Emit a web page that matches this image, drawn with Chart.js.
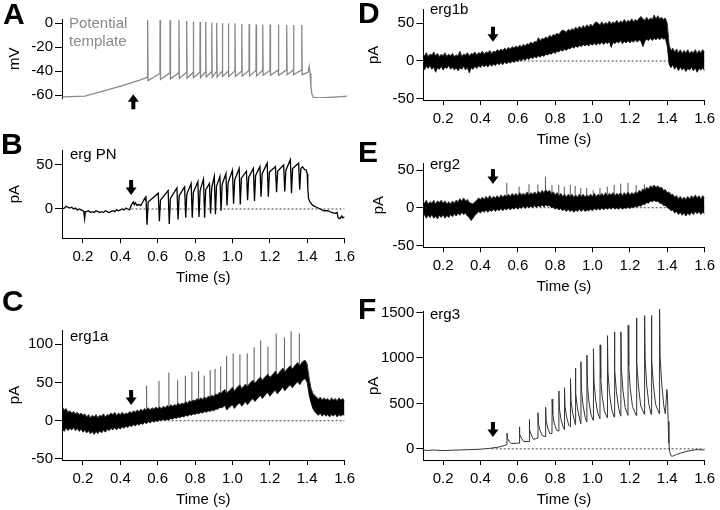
<!DOCTYPE html>
<html><head><meta charset="utf-8">
<script src="https://cdn.jsdelivr.net/npm/chart.js@4.4.1/dist/chart.umd.min.js"></script>
<style>
html,body{margin:0;padding:0;background:#fff;}
#fig{position:relative;width:720px;height:510px;overflow:hidden;background:#fff;font-family:'Liberation Sans',Arial,sans-serif;}
canvas{position:absolute;}
.lbl{position:absolute;font-size:15px;line-height:15px;color:#000;white-space:nowrap;}
.let{position:absolute;font-size:30px;line-height:30px;font-weight:bold;color:#000;}
</style></head><body>
<div id="fig">
<canvas id="cA" width="360" height="110" style="left:0px;top:0px"></canvas>
<canvas id="cB" width="360" height="180" style="left:0px;top:110px"></canvas>
<canvas id="cC" width="360" height="220" style="left:0px;top:290px"></canvas>
<canvas id="cD" width="360" height="170" style="left:360px;top:-10px"></canvas>
<canvas id="cE" width="360" height="170" style="left:360px;top:145px"></canvas>
<canvas id="cF" width="360" height="215" style="left:360px;top:295px"></canvas>
<div class="let" style="left:3px;top:-1px">A</div>
<div class="let" style="left:1px;top:129px">B</div>
<div class="let" style="left:2px;top:286px">C</div>
<div class="let" style="left:358px;top:-2px">D</div>
<div class="let" style="left:358px;top:137px">E</div>
<div class="let" style="left:358px;top:294px">F</div>
<div class="lbl" style="left:69px;top:14px;line-height:18.4px;color:#888">Potential<br>template</div>
<div class="lbl" style="left:70px;top:146px">erg PN</div>
<div class="lbl" style="left:70px;top:328px">erg1a</div>
<div class="lbl" style="left:430px;top:1px">erg1b</div>
<div class="lbl" style="left:430px;top:156px">erg2</div>
<div class="lbl" style="left:430px;top:306px">erg3</div>
</div>
<script>
// ---------- shared ----------
const xTicks = [0.2,0.4,0.6,0.8,1.0,1.2,1.4,1.6];
const yTicksA = [-60,-40,-20,0];
const yTicksB = [0,50];
const yTicksC = [-50,0,50,100];
const yTicksD = [-50,0,50];
const yTicksE = [-50,0,50];
const yTicksF = [0,500,1000,1500];
const spikeTimes = [0.541,0.607,0.660,0.707,0.748,0.783,0.819,0.849,0.881,0.907,0.937,0.969,1.004,1.040,1.079,1.116,1.151,1.190,1.234,1.278,1.314,1.358];

// ---------- A: potential template (mV) ----------
const aPre = [[0.09,-61.5],[0.21,-61],[0.3,-57],[0.4,-52.5],[0.5,-47.5],[0.535,-45.5]];
const aOnset = [-45,-42,-41.5,-41.5,-41,-41,-41,-40.5,-40.5,-40.5,-40,-40,-40,-40,-39.5,-39.5,-39.5,-39.5,-39,-39,-39,-39];
const aPeak = [3,3,2.5,2.5,2,1.5,1,1,0.5,0.5,0,0,0,-0.5,-0.5,-1,-1,-1,-1,-1.5,-1.5,-1.5];
const aTrough = [-48,-47,-46.5,-46,-46,-45.5,-45.5,-45,-45,-45,-44.5,-44.5,-44.5,-44,-44,-44,-43.5,-43.5,-43.5,-43,-43,-43];
const aPost = [[1.392,-41],[1.398,-36],[1.403,-42],[1.407,-52],[1.412,-59],[1.42,-62],[1.45,-62.5],[1.5,-62],[1.55,-61.5],[1.6,-61]];

// ---------- B: erg PN (pA) ----------
const bPre = [[0.09,0],[0.1,1],[0.11,3],[0.12,2],[0.13,1],[0.14,2],[0.15,0],[0.16,1],[0.17,-1],[0.18,0],[0.19,-1],[0.2,-2],[0.205,-3],[0.209,-11],[0.213,-3],[0.22,-3],[0.23,-2],[0.24,-4],[0.25,-3],[0.26,-4],[0.27,-2],[0.28,-3],[0.29,-4],[0.3,-3],[0.31,-4],[0.32,-2],[0.33,-3],[0.34,-4],[0.35,-3],[0.36,-2],[0.37,-3],[0.38,-1],[0.39,-2],[0.4,-1],[0.41,0],[0.42,-1],[0.43,1],[0.44,0],[0.45,-1],[0.455,2],[0.46,5],[0.47,8],[0.475,5],[0.48,7],[0.49,4],[0.5,5],[0.51,4],[0.52,8],[0.53,12],[0.535,10]];
const bTop = [15,18,21,24,25,29,31,34,29,37,37,40,44,46,43,46,48,52,48,50,56,52];
const bDip = [-18,-14,-17,-12,-10,-10,-9,-10,-5,-6,-2,4,6,5,10,9,14,14,19,20,18,22];
const bLevel = [8,10,12,15,17,19,21,22,24,26,28,30,33,35,36,38,40,42,43,44,46,46];
const bPost = [[1.375,48],[1.385,45],[1.395,44],[1.4,40],[1.403,25],[1.407,12],[1.415,8],[1.43,4],[1.45,2],[1.47,0],[1.49,-2],[1.51,-2],[1.53,-4],[1.55,-5],[1.56,-4],[1.565,-10],[1.575,-11],[1.585,-8],[1.59,-10],[1.6,-9]];

// ---------- C: erg1a (pA), band sampled every 0.01 s from 0.09 s ----------
const cUpper = [18,14,16,11,13,10,12,9,11,8, 10,7,9,5,8,4,7,5,8,4, 7,6,9,5,8,7,10,8,11,7, 10,8,11,8,10,9,12,10,13,11,
 14,12,15,13,16,14,17,14,17,15, 18,16,18,16,19,17,20,18,21,19, 21,20,23,21,23,22,25,23,26,25, 27,26,29,27,30,28,31,29,32,31,
 33,32,35,34,37,36,39,41,36,39, 41,44,39,42,45,47,42,45,48,45, 48,51,53,49,52,55,57,53,56,59, 61,57,59,62,65,60,63,66,69,64,
 67,70,72,68,71,74,76,72,76,78, 79,74,56,43,36,33,31,28,31,27, 30,27,29,26,30,27,29,26,30,27, 29,26];
const cLower = [-10,-14,-9,-13,-10,-12,-9,-13,-10,-14, -11,-15,-12,-16,-13,-17,-14,-18,-14,-17, -13,-16,-12,-15,-11,-13,-10,-12,-9,-12, -9,-11,-8,-10,-7,-9,-6,-8,-5,-7,
 -4,-6,-3,-5,-2,-4,-1,-3,0,-2, 0,-1,1,0,2,0,2,1,3,2, 4,3,5,4,6,5,7,6,8,7, 9,8,10,9,11,10,12,11,13,12,
 14,13,15,15,17,17,18,20,14,17, 19,21,16,19,22,23,19,22,25,21, 24,27,29,25,28,31,33,29,32,35, 37,32,35,38,40,35,38,41,44,39,
 42,45,47,43,46,49,51,47,51,54, 55,50,34,24,16,12,9,7,10,6, 9,6,8,5,8,6,9,5,8,6, 8,7];
const cSpikeBase = [7,8,10,12,14,16,18,20,22,23,26,28,32,35,38,42,45,48,52,56,59,64];
const cSpikeTip = [46,52,63,53,59,64,65,59,66,68,71,85,88,87,88,96,105,97,114,109,117,114];

// ---------- D: erg1b (pA) ----------
const dUpper = [10,7,11,6,9,8,12,7,10,6, 9,7,11,6,9,7,10,6,8,7, 13,6,9,8,11,7,10,9,12,8, 11,10,13,9,12,11,14,10,13,12,
 15,13,16,14,17,15,18,16,19,17, 20,18,21,19,22,20,23,22,25,23, 26,25,31,27,30,29,32,30,34,32, 35,34,37,35,39,41,40,38,42,40,
 43,41,45,42,46,43,47,44,48,45, 49,46,50,52,50,48,52,48,51,49, 53,49,52,50,54,50,53,51,55,51, 54,52,56,52,55,53,57,59,56,54,
 58,54,57,55,61,56,60,56,58,55, 57,50,22,14,17,12,16,11,15,10, 14,11,15,10,13,11,15,10,14,11, 15,12];
const dLower = [-8,-12,-7,-10,-6,-11,-8,-15,-9,-11, -7,-12,-8,-10,-6,-11,-8,-12,-9,-13, -9,-11,-7,-12,-8,-16,-9,-11,-7,-10, -6,-9,-5,-8,-5,-8,-4,-7,-4,-6,
 -3,-5,-2,-5,-1,-4,-1,-3,0,-2, 1,-1,2,0,3,1,4,2,5,3, 6,4,7,5,8,6,9,8,10,9, 12,10,13,12,15,13,16,14,17,16,
 19,17,20,18,21,19,22,20,22,20, 23,21,24,21,24,22,25,22,25,23, 26,18,25,23,26,24,27,23,26,24, 27,24,27,25,28,25,28,26,19,26,
 29,27,30,27,30,28,31,28,31,29, 30,20,-4,-9,-5,-11,-7,-13,-8,-12, -9,-14,-10,-12,-8,-13,-9,-15,-10,-12, -9,-13];

// ---------- E: erg2 (pA) ----------
const eUpper = [9,6,10,5,8,6,10,5,9,7, 10,6,9,5,8,5,9,6,10,8, 12,9,13,9,11,7,6,5,8,10, 13,11,14,11,15,12,16,12,15,13,
 16,13,17,14,17,15,18,15,19,16, 19,16,20,17,19,17,21,17,20,18, 21,18,22,19,23,20,24,21,23,19, 21,17,20,16,19,15,18,14,18,15,
 18,14,17,14,18,15,18,14,17,15, 18,15,19,15,18,16,19,16,20,16, 19,17,20,16,19,17,20,16,20,17, 21,17,20,18,21,19,23,21,25,23,
 27,25,29,27,30,27,29,26,27,23, 24,20,21,17,18,14,16,12,15,11, 14,11,15,12,16,13,17,13,16,12, 16,13];
const eLower = [-12,-9,-14,-10,-13,-9,-14,-11,-15,-10, -13,-9,-14,-10,-13,-9,-12,-8,-11,-7, -10,-6,-9,-7,-11,-13,-17,-14,-10,-8, -5,-7,-4,-6,-3,-6,-3,-5,-2,-5,
 -2,-4,-1,-4,-1,-3,0,-3,0,-2, 1,-2,1,-1,2,-1,2,0,2,0, 3,0,3,1,4,1,4,2,3,0, 1,-2,0,-3,-1,-4,-2,-5,-2,-5,
 -3,-6,-3,-5,-2,-5,-2,-5,-3,-4, -2,-4,-1,-3,-1,-3,0,-3,0,-2, 0,-2,1,-2,0,-2,1,-2,0,-1, 1,-1,1,0,2,1,3,2,5,4,
 7,6,9,8,10,8,9,6,6,3, 3,0,-1,-4,-3,-7,-5,-9,-6,-10, -7,-11,-7,-10,-6,-9,-5,-8,-5,-9, -6,-8];
const eSpikeBase = [8,8,9,9,10,9,8,7,6,6,6,6,6,7,7,8,8,8,9,12,15,17];
const eSpikeTip = [33,28,31,31,41,30,30,28,30,29,26,26,23,26,28,30,32,33,30,31,28,27];

// ---------- F: erg3 (pA) ----------
const fPre = [[0.09,-12],[0.12,-18],[0.15,-13],[0.2,-20],[0.25,-15],[0.3,-12],[0.35,-8],[0.4,-4],[0.45,5],[0.5,20],[0.535,40]];
const fBase = [46,63,80,118,134,170,195,213,242,267,277,295,313,331,342,349,360,367,367,378,378,385];
const fTip = [172,242,322,397,458,547,636,672,772,887,959,1030,1101,1144,1245,1287,1287,1359,1441,1466,1466,1537];
const fD1 = [115,161,213,271,312,377,438,465,534,608,652,699,746,778,839,865,870,913,958,976,976,1019];
const fD2 = [84,117,153,202,231,283,327,351,401,453,482,516,549,575,613,630,638,665,689,704,704,731];
const fD3 = [59,81,104,146,166,208,239,259,295,329,345,369,392,412,432,443,453,466,474,487,487,470];
const fPost = [[1.39,385],[1.398,654],[1.401,600],[1.405,300],[1.409,60],[1.414,-40],[1.42,-75],[1.426,-82],[1.435,-75],[1.45,-62],[1.47,-48],[1.5,-30],[1.53,-17],[1.56,-9],[1.58,-11],[1.6,-13]];

// ---------- builders ----------
const GRID_T0 = 0.09, GRID_DT = 0.01;
const pairs = a => a.map(p => ({x:p[0], y:p[1]}));
const onGrid = v => v.map((y,i) => ({x: Math.round((GRID_T0 + i*GRID_DT)*1000)/1000, y}));
function buildA(){
  const p = pairs(aPre);
  spikeTimes.forEach((t,i)=>{ p.push({x:t,y:aOnset[i]},{x:t+0.0008,y:aPeak[i]},{x:t+0.003,y:aTrough[i]}); });
  return p.concat(pairs(aPost));
}
function buildB(){
  const p = pairs(bPre);
  spikeTimes.forEach((t,i)=>{ p.push({x:t-0.004,y:bTop[i]},{x:t+0.002,y:bDip[i]},{x:t+0.008,y:bLevel[i]}); });
  return p.concat(pairs(bPost));
}
function buildF(){
  const p = pairs(fPre);
  spikeTimes.forEach((t,i)=>{ p.push({x:t,y:fBase[i]},{x:t+0.001,y:fTip[i]},{x:t+0.004,y:fD1[i]},{x:t+0.012,y:fD2[i]},{x:t+0.024,y:fD3[i]}); });
  return p.concat(pairs(fPost));
}
function spikeLines(base, tip){
  const p = [];
  spikeTimes.forEach((t,i)=>{ p.push({x:t,y:base[i]},{x:t,y:tip[i]},{x:t,y:null}); });
  return p;
}
const zeroLine = () => ({data:[{x:0.46,y:0},{x:1.6,y:0}], borderColor:'#444', borderWidth:1, borderDash:[2,2], order:10});
const band = (lo, up) => [
  {data:onGrid(lo), borderColor:'#3a3a3a', borderWidth:1, fill:false, order:2},
  {data:onGrid(up), borderColor:'#3a3a3a', borderWidth:1, fill:'-1', backgroundColor:'#000', order:1}
];

function arrowPlugin(a){
  return {id:'arrowMark', afterDatasetsDraw(chart){
    const ctx = chart.ctx;
    const x = chart.scales.x.getPixelForValue(a.t);
    const y = chart.scales.y.getPixelForValue(a.v);
    const d = a.dir === 'up' ? -1 : 1;
    ctx.save(); ctx.fillStyle = '#000'; ctx.beginPath();
    ctx.moveTo(x, y);
    ctx.lineTo(x-5.5, y-d*7.5); ctx.lineTo(x-2, y-d*7.5); ctx.lineTo(x-2, y-d*15);
    ctx.lineTo(x+2, y-d*15); ctx.lineTo(x+2, y-d*7.5); ctx.lineTo(x+5.5, y-d*7.5);
    ctx.closePath(); ctx.fill(); ctx.restore();
  }};
}

const FONT = {family:"'Liberation Sans', Arial, sans-serif", size:15};
function makeChart(id, cfg){
  return new Chart(document.getElementById(id), {
    type:'line',
    data:{datasets: cfg.datasets},
    options:{
      responsive:false, animation:false, events:[],
      layout:{padding:cfg.pad},
      elements:{point:{radius:0}, line:{tension:0}},
      plugins:{legend:{display:false}, tooltip:{enabled:false}},
      scales:{
        x:{type:'linear', min:cfg.xmin, max:1.6, display:cfg.showX,
          afterBuildTicks: s => { s.ticks = xTicks.map(v => ({value:v})); },
          afterFit: s => { s.height = cfg.showX ? 49 : 0; },
          grid:{drawOnChartArea:false, drawTicks:true, tickLength:5, color:'#000', lineWidth:1},
          border:{display:true, color:'#000', width:1},
          ticks:{font:FONT, color:'#000', padding:5, maxRotation:0, autoSkip:false, callback: v => Number(v).toFixed(1)},
          title:{display:true, text:'Time (s)', font:FONT, color:'#000', padding:0}},
        y:{type:'linear', min:cfg.ymin, max:cfg.ymax,
          afterBuildTicks: s => { s.ticks = cfg.yTicks.map(v => ({value:v})); },
          afterFit: s => { s.width = cfg.yw; },
          grid:{drawOnChartArea:false, drawTicks:true, tickLength:7, color:'#000', lineWidth:1},
          border:{display:true, color:'#000', width:1},
          ticks:{font:FONT, color:'#000', padding:2, autoSkip:false, callback: v => String(v)},
          title:{display:true, text:cfg.yTitle, font:FONT, color:'#000', padding:{top:cfg.tp, bottom:0}}}
      }
    },
    plugins:[arrowPlugin(cfg.arrow)]
  });
}

makeChart('cA', {xmin:0.088, showX:false, ymin:-62.5, ymax:3, yTicks:yTicksA, yw:62, yTitle:'mV', tp:6,
  pad:{left:0, right:12.7, top:19.7, bottom:12}, arrow:{t:0.466, v:-59.4, dir:'up'},
  datasets:[{data:buildA(), borderColor:'#888', borderWidth:1.3, order:1}]});

makeChart('cB', {xmin:0.088, showX:true, ymin:-33.3, ymax:67, yTicks:yTicksB, yw:62, yTitle:'pA', tp:6,
  pad:{left:0, right:12.7, top:40, bottom:2.7}, arrow:{t:0.458, v:15.9, dir:'down'},
  datasets:[zeroLine(), {data:buildB(), borderColor:'#000', borderWidth:1.3, order:1}]});

makeChart('cC', {xmin:0.088, showX:true, ymin:-51.4, ymax:118.7, yTicks:yTicksC, yw:62, yTitle:'pA', tp:6,
  pad:{left:0, right:12.7, top:40, bottom:1}, arrow:{t:0.458, v:20.5, dir:'down'},
  datasets:[zeroLine(), ...band(cLower, cUpper),
    {data:spikeLines(cSpikeBase, cSpikeTip), borderColor:'#555', borderWidth:1, spanGaps:false, order:3}]});

makeChart('cD', {xmin:0.094, showX:true, ymin:-52, ymax:68, yTicks:yTicksD, yw:63.3, yTitle:'pA', tp:4.5,
  pad:{left:0, right:12.3, top:19.7, bottom:10.8}, arrow:{t:0.467, v:25.6, dir:'down'},
  datasets:[zeroLine(), ...band(dLower, dUpper)]});

makeChart('cE', {xmin:0.094, showX:true, ymin:-52.5, ymax:59.3, yTicks:yTicksE, yw:63.3, yTitle:'pA', tp:10,
  pad:{left:0, right:12.3, top:18, bottom:18.7}, arrow:{t:0.467, v:31.4, dir:'down'},
  datasets:[zeroLine(), ...band(eLower, eUpper),
    {data:spikeLines(eSpikeBase, eSpikeTip), borderColor:'#555', borderWidth:1, spanGaps:false, order:3}]});

makeChart('cF', {xmin:0.094, showX:true, ymin:-123, ymax:1510, yTicks:yTicksF, yw:63.3, yTitle:'pA', tp:4.5,
  pad:{left:0, right:12.3, top:16.6, bottom:1}, arrow:{t:0.467, v:129, dir:'down'},
  datasets:[zeroLine(), {data:buildF(), borderColor:'#333', borderWidth:1, clip:false, order:1}]});
</script>
</body></html>
